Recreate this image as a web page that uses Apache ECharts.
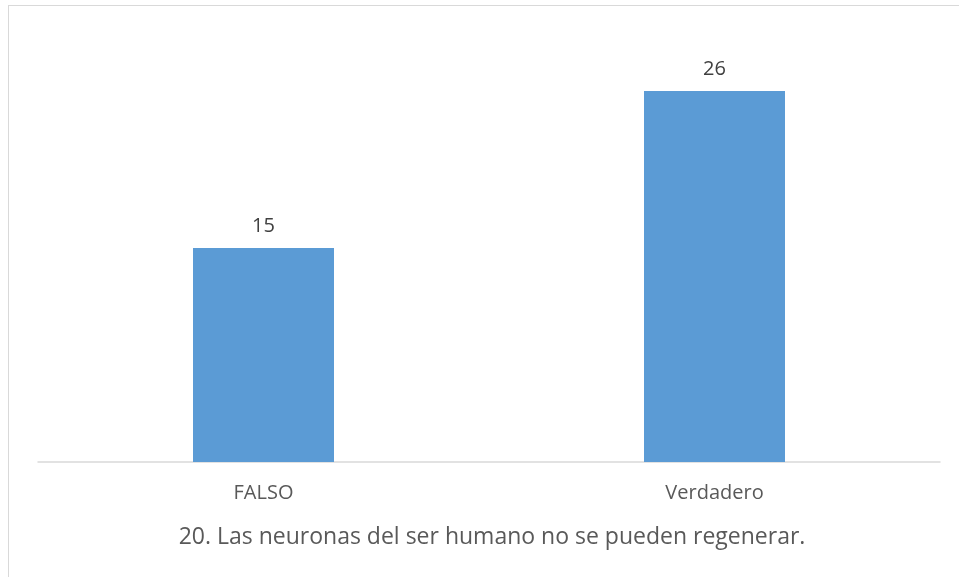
<!DOCTYPE html>
<html>
<head>
<meta charset="utf-8">
<script src="https://cdn.jsdelivr.net/npm/echarts@6/dist/echarts.min.js"></script>
<style>
  html, body { margin: 0; padding: 0; background: #fff; overflow: hidden; }
  #frame { position: absolute; left: 8px; top: 5px; width: 960px; height: 580px; border: 1px solid #d9d9d9; box-sizing: border-box; }
  #chart { position: absolute; left: 0; top: 0; width: 959px; height: 577px; }
</style>
</head>
<body>
<div id="frame"></div>
<div id="chart"></div>
<script>
const categories = ['FALSO', 'Verdadero']
const values = [15, 26]
const chartTitle = '20. Las neuronas del ser humano no se pueden regenerar.'
const font = '"Open Sans", "Noto Sans", sans-serif'

const option = {
  animation: false,
  title: {
    text: chartTitle,
    left: 487,
    top: 521,
    textAlign: 'center',
    textStyle: { color: '#595959', fontSize: 23, fontWeight: 'normal', fontFamily: font }
  },
  grid: { left: 38, right: 19, top: 34, bottom: 115 },
  xAxis: {
    type: 'category',
    data: categories,
    axisLine: { lineStyle: { color: '#d9d9d9', width: 1.5 } },
    axisTick: { show: false },
    axisLabel: { color: '#595959', fontSize: 20, fontFamily: font, margin: 21 }
  },
  yAxis: {
    type: 'value',
    min: 0,
    max: 30,
    show: false,
    splitLine: { show: false }
  },
  series: [{
    type: 'bar',
    data: values,
    barWidth: 141,
    itemStyle: { color: '#5b9bd5' },
    label: {
      show: true,
      position: 'top',
      distance: 12,
      color: '#404040',
      fontSize: 20,
      fontFamily: font
    }
  }]
}

echarts.init(document.getElementById('chart')).setOption(option)
</script>
</body>
</html>
